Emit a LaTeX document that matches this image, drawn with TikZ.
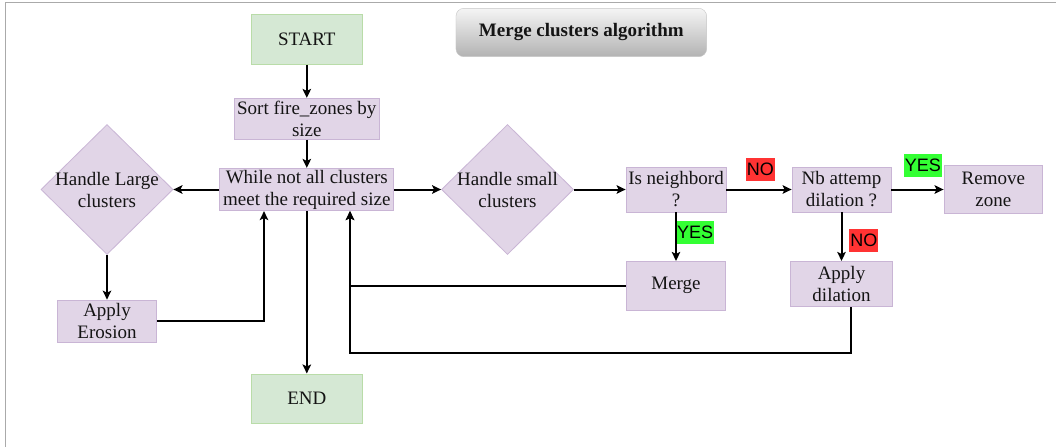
\documentclass[tikz,border=0pt]{standalone}
\usepackage{fontspec}
\setmainfont{Liberation Serif}
\newfontfamily\lsans{Liberation Sans}
\usetikzlibrary{shapes.geometric,arrows.meta}
\definecolor{pfill}{HTML}{E1D5E7}
\definecolor{pdraw}{HTML}{C9B5D5}
\definecolor{gfill}{HTML}{D5E8D4}
\definecolor{gdraw}{HTML}{B9DCA8}
\definecolor{txt}{HTML}{141414}
\definecolor{frame}{HTML}{AAAAAA}
\definecolor{redlab}{HTML}{FF3333}
\definecolor{greenlab}{HTML}{33FF33}
\newcommand\myfs{\fontsize{19}{22}\selectfont}
\begin{document}
\begin{tikzpicture}[x=1pt,y=-1pt,
  box/.style={draw=pdraw, fill=pfill, line width=0.8pt, inner sep=0pt, align=center, font=\myfs, text=txt},
  term/.style={draw=gdraw, fill=gfill, line width=0.8pt, inner sep=0pt, align=center, font=\myfs, text=txt, minimum width=110.7pt, minimum height=49.6pt},
  dia/.style={diamond, draw=pdraw, fill=pfill, line width=0.8pt, inner sep=0pt, minimum width=132pt, minimum height=130pt},
  conn/.style={line width=2pt, draw=black, -{Stealth[length=9pt,width=8.5pt,inset=2pt]}},
  lab/.style={font=\lsans\fontsize{18}{20}\selectfont, inner sep=0pt, text=black, minimum height=22.7pt}
]
\useasboundingbox (0,0) rectangle (1056,447);
\fill[white] (0,0) rectangle (1056,447);
\draw[frame, line width=1.2pt] (5.5,447) -- (5.5,2.5) -- (1056,2.5);

% title
\node[draw=gray!45, rounded corners=8pt, top color=gray!8, bottom color=gray!60,
      minimum width=250.7pt, minimum height=48.4pt, inner sep=0pt,
      font=\bfseries\fontsize{19}{22}\selectfont, text=txt] (title) at (581.3,32.5) {Merge clusters algorithm};

% nodes
\node[term] (start) at (306.8,39.5) {START};
\node[box, minimum width=145pt, minimum height=41pt] (sort) at (306.8,118.8) {Sort fire\_zones by\\size};
\node[box, minimum width=174pt, minimum height=42.4pt] (while) at (306.8,189.5) {While not all clusters\\meet the required size};
\node[dia, label={[align=center, font=\myfs, text=txt]center:Handle Large\\clusters}] (hl) at (107,189.5) {};
\node[dia, label={[align=center, font=\myfs, text=txt]center:Handle small\\clusters}] (hs) at (507.5,189.5) {};
\node[box, minimum width=99pt, minimum height=42.3pt] (ero) at (107,321.2) {Apply\\Erosion};
\node[term] (end) at (306.8,398.7) {END};
\node[box, minimum width=100pt, minimum height=45pt] (isn) at (676,189.5) {Is neighbord\\?};
\node[box, minimum width=99pt, minimum height=45pt] (nb) at (841.5,189.5) {Nb attemp\\dilation ?};
\node[box, minimum width=98.7pt, minimum height=48pt] (rem) at (993.3,189.5) {Remove\\zone};
\node[box, minimum width=99.7pt, minimum height=48.7pt] (merge) at (676,285.7) {Merge};
\node[box, minimum width=102.7pt, minimum height=45.3pt] (dil) at (841.5,284) {Apply\\dilation};

% labels
\node[lab, fill=redlab, minimum width=28.7pt] (no1) at (760.3,169.7) {NO};
\node[lab, fill=greenlab, minimum width=37.7pt] (yes1) at (922.8,165.3) {YES};
\node[lab, fill=greenlab, minimum width=38pt] (yes2) at (695,232.5) {YES};
\node[lab, fill=redlab, minimum width=29pt] (no2) at (863.8,240.5) {NO};

% connectors
\draw[conn] (start) -- (sort);
\draw[conn] (sort) -- (while);
\draw[conn] (while.west) -- (hl.east);
\draw[conn] (while.east) -- (hs.west);
\draw[conn] (while) -- (end);
\draw[conn] (hs.east) -- (isn.west);
\draw[conn] (isn.east) -- (nb.west);
\draw[conn] (nb.east) -- (rem.west);
\draw[conn] (isn) -- (merge);
\draw[conn] (nb) -- (dil);
\draw[conn] (hl) -- (ero);
\draw[conn] (ero.east) -| ([xshift=-42.8pt]while.south);
\draw[conn] (merge.west) -| ([xshift=43.2pt]while.south);
\coordinate (dcorner) at ([xshift=9.8pt]dil.south |- 0,353.3);
\draw[conn] ([xshift=9.8pt]dil.south) -- (dcorner) -| ([xshift=43.2pt]while.south);
\end{tikzpicture}
\end{document}
